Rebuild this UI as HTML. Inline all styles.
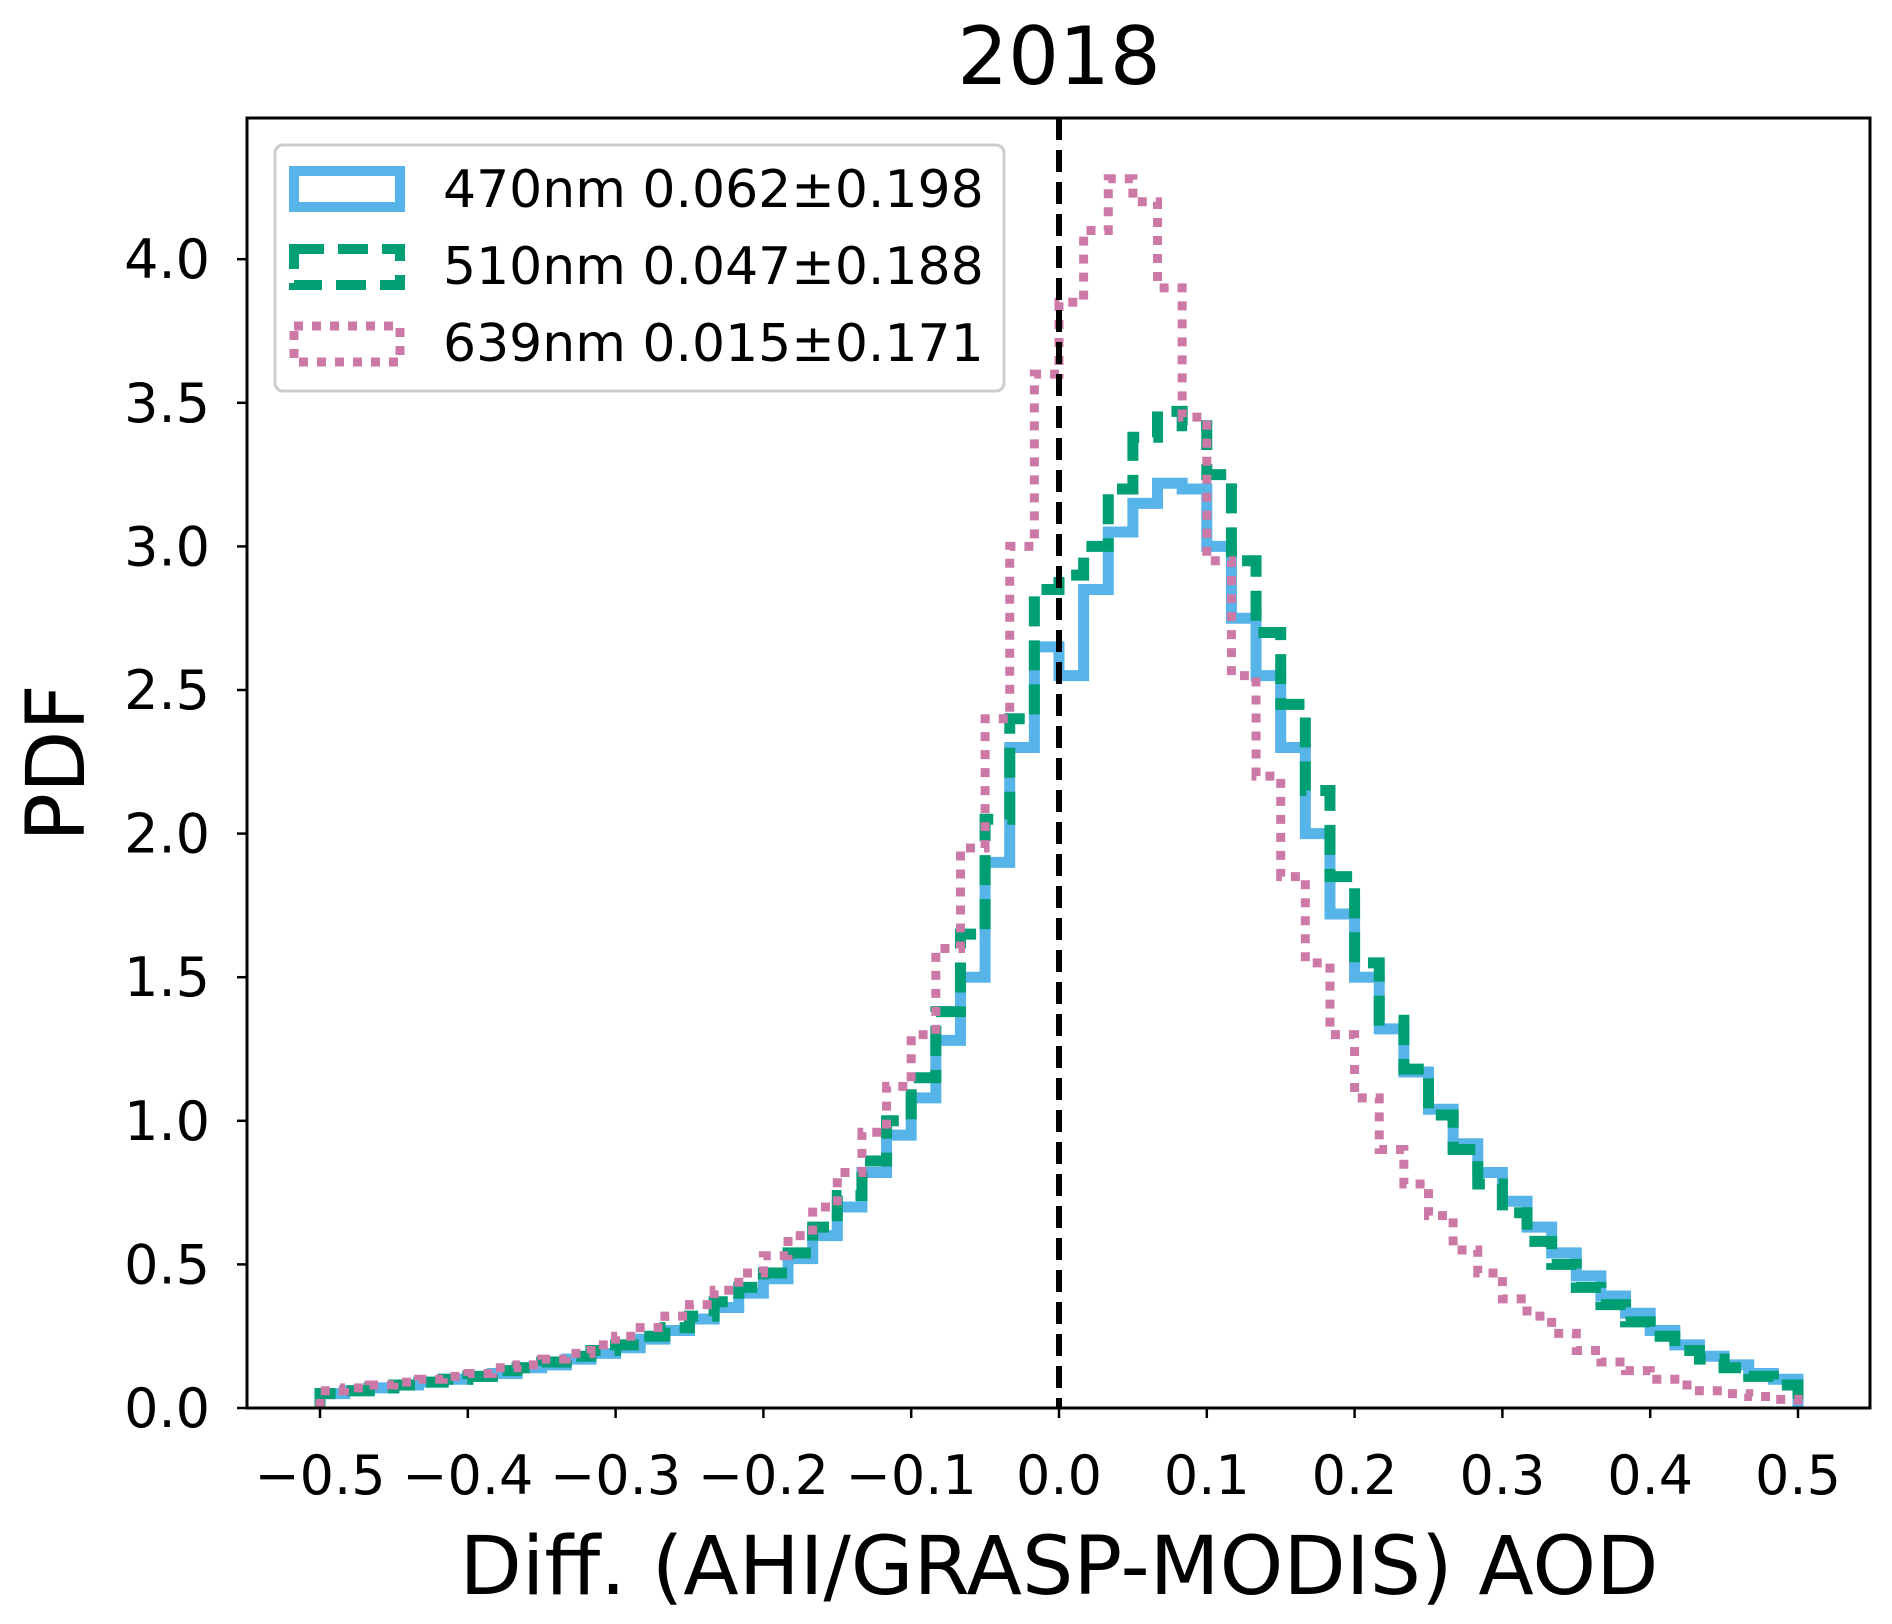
<!DOCTYPE html>
<html><head><meta charset="utf-8"><style>
html,body{margin:0;padding:0;background:#fff}
svg{display:block;font-family:"DejaVu Sans","Liberation Sans",sans-serif}
</style></head><body>
<svg id="chart" width="1892" height="1624" viewBox="0 0 1892 1624">
<rect width="1892" height="1624" fill="#fff"/>
<text x="1059" y="84" font-size="80" text-anchor="middle">2018</text>
<g id="plot"></g>
<rect x="247" y="118" width="1623" height="1290" fill="none" stroke="#000" stroke-width="3"/>
<g id="ticks"></g>
<text x="1059" y="1594" font-size="81" text-anchor="middle">Diff. (AHI/GRASP-MODIS) AOD</text>
<text transform="translate(84,763) rotate(-90)" font-size="81" text-anchor="middle">PDF</text>
<g>
<rect x="275" y="145" width="729" height="246" rx="8" fill="#fff" fill-opacity="0.85" stroke="#ccc" stroke-width="3"/>
<g>
<rect x="294" y="171" width="106" height="36" fill="none" stroke="#56b4e9" stroke-width="10"/>
<text x="443" y="207" font-size="52">470nm 0.062±0.198</text></g>
<g>
<rect x="294" y="249" width="106" height="36" fill="none" stroke="#009e73" stroke-width="10" stroke-dasharray="30,14"/>
<text x="443" y="284" font-size="52">510nm 0.047±0.188</text></g>
<g>
<rect x="294" y="326" width="106" height="36" fill="none" stroke="#cc79a7" stroke-width="9" stroke-dasharray="9,9"/>
<text x="443" y="361" font-size="52">639nm 0.015±0.171</text></g>
</g>
</svg>
<script>
const blue=[0.05,0.06,0.07,0.08,0.09,0.10, 0.11,0.12,0.14,0.15,0.17,0.19, 0.21,0.24,0.27,0.31,0.35,0.40, 0.45,0.52,0.60,0.70,0.82,0.95, 1.08,1.28,1.5,1.9,2.3,2.65,
 2.55,2.85,3.05,3.15,3.22,3.2, 3.0,2.75,2.55,2.3,2.0,1.72, 1.5,1.32,1.17,1.04,0.92,0.82, 0.72,0.63,0.54,0.46,0.39,0.33, 0.27,0.22,0.18,0.15,0.12,0.10];
const green=[0.05,0.06,0.07,0.08,0.09,0.10, 0.11,0.13,0.14,0.16,0.18,0.2, 0.22,0.25,0.28,0.32,0.37,0.42, 0.47,0.54,0.63,0.74,0.86,1.0, 1.15,1.38,1.65,2.05,2.4,2.85,
 2.9,3.0,3.2,3.38,3.47,3.42, 3.25,2.95,2.7,2.45,2.15,1.85, 1.55,1.35,1.18,1.02,0.9,0.78, 0.68,0.58,0.5,0.42,0.36,0.3, 0.25,0.2,0.17,0.14,0.11,0.08];
const pink=[0.06,0.07,0.08,0.09,0.10,0.11, 0.12,0.14,0.15,0.17,0.19,0.22, 0.25,0.28,0.32,0.36,0.41,0.47, 0.53,0.6,0.7,0.82,0.96,1.12, 1.3,1.6,1.95,2.4,3.0,3.6,
 3.85,4.1,4.28,4.2,3.9,3.45, 2.95,2.55,2.2,1.85,1.55,1.3, 1.08,0.9,0.78,0.67,0.55,0.47, 0.38,0.32,0.26,0.2,0.16,0.13, 0.1,0.08,0.06,0.05,0.04,0.03];
const xTicks=[-0.5,-0.4,-0.3,-0.2,-0.1,0.0,0.1,0.2,0.3,0.4,0.5];
const yTicks=[0,0.5,1,1.5,2,2.5,3,3.5,4];
const binStart=-0.5, binEnd=0.5;
const NS="http://www.w3.org/2000/svg";
const sx=v=>320+(v+0.5)*1478;
const sy=v=>1408-v*287.2;
const plot=document.getElementById('plot'), ticks=document.getElementById('ticks');
function fmt(v){return (v<0?'\u2212':'')+Math.abs(v).toFixed(1);}
function stepPath(vals){
  const w=(binEnd-binStart)/vals.length;
  let d='M'+sx(binStart)+','+sy(0);
  vals.forEach((v,i)=>{d+=' L'+sx(binStart+i*w)+','+sy(v)+' L'+sx(binStart+(i+1)*w)+','+sy(v);});
  d+=' L'+sx(binEnd)+','+sy(0);
  return d;
}
const series=[[blue,'#56b4e9','none',11,'series-470nm'],[green,'#009e73','30,14',11,'series-510nm'],[pink,'#cc79a7','9,9',9,'series-639nm']];
series.forEach(s=>{
  const p=document.createElementNS(NS,'path');
  p.setAttribute('d',stepPath(s[0]));
  p.setAttribute('fill','none');p.setAttribute('stroke',s[1]);
  p.setAttribute('stroke-width',s[3]);
  if(s[2]!=='none')p.setAttribute('stroke-dasharray',s[2]);
  
  
  plot.appendChild(p);
});
const zl=document.createElementNS(NS,'line');
zl.setAttribute('x1',sx(0));zl.setAttribute('x2',sx(0));zl.setAttribute('y1',118);zl.setAttribute('y2',1408);
zl.setAttribute('stroke','#000');zl.setAttribute('stroke-width',6);zl.setAttribute('stroke-dasharray','22,10');


plot.appendChild(zl);
xTicks.forEach(v=>{
  const l=document.createElementNS(NS,'line');
  l.setAttribute('x1',sx(v));l.setAttribute('x2',sx(v));l.setAttribute('y1',1408);l.setAttribute('y2',1418);
  l.setAttribute('stroke','#000');l.setAttribute('stroke-width',2.5);
  
  
  ticks.appendChild(l);
  const t=document.createElementNS(NS,'text');
  t.setAttribute('x',sx(v));t.setAttribute('y',1494);t.setAttribute('font-size',54);t.setAttribute('text-anchor','middle');
  t.textContent=fmt(v);
  
  
  ticks.appendChild(t);
});
yTicks.forEach(v=>{
  const l=document.createElementNS(NS,'line');
  l.setAttribute('x1',237);l.setAttribute('x2',247);l.setAttribute('y1',sy(v));l.setAttribute('y2',sy(v));
  l.setAttribute('stroke','#000');l.setAttribute('stroke-width',2.5);
  
  
  ticks.appendChild(l);
  const t=document.createElementNS(NS,'text');
  t.setAttribute('x',210);t.setAttribute('y',sy(v)+19);t.setAttribute('font-size',54);t.setAttribute('text-anchor','end');
  t.textContent=fmt(v);
  
  
  ticks.appendChild(t);
});
</script>
</body></html>
